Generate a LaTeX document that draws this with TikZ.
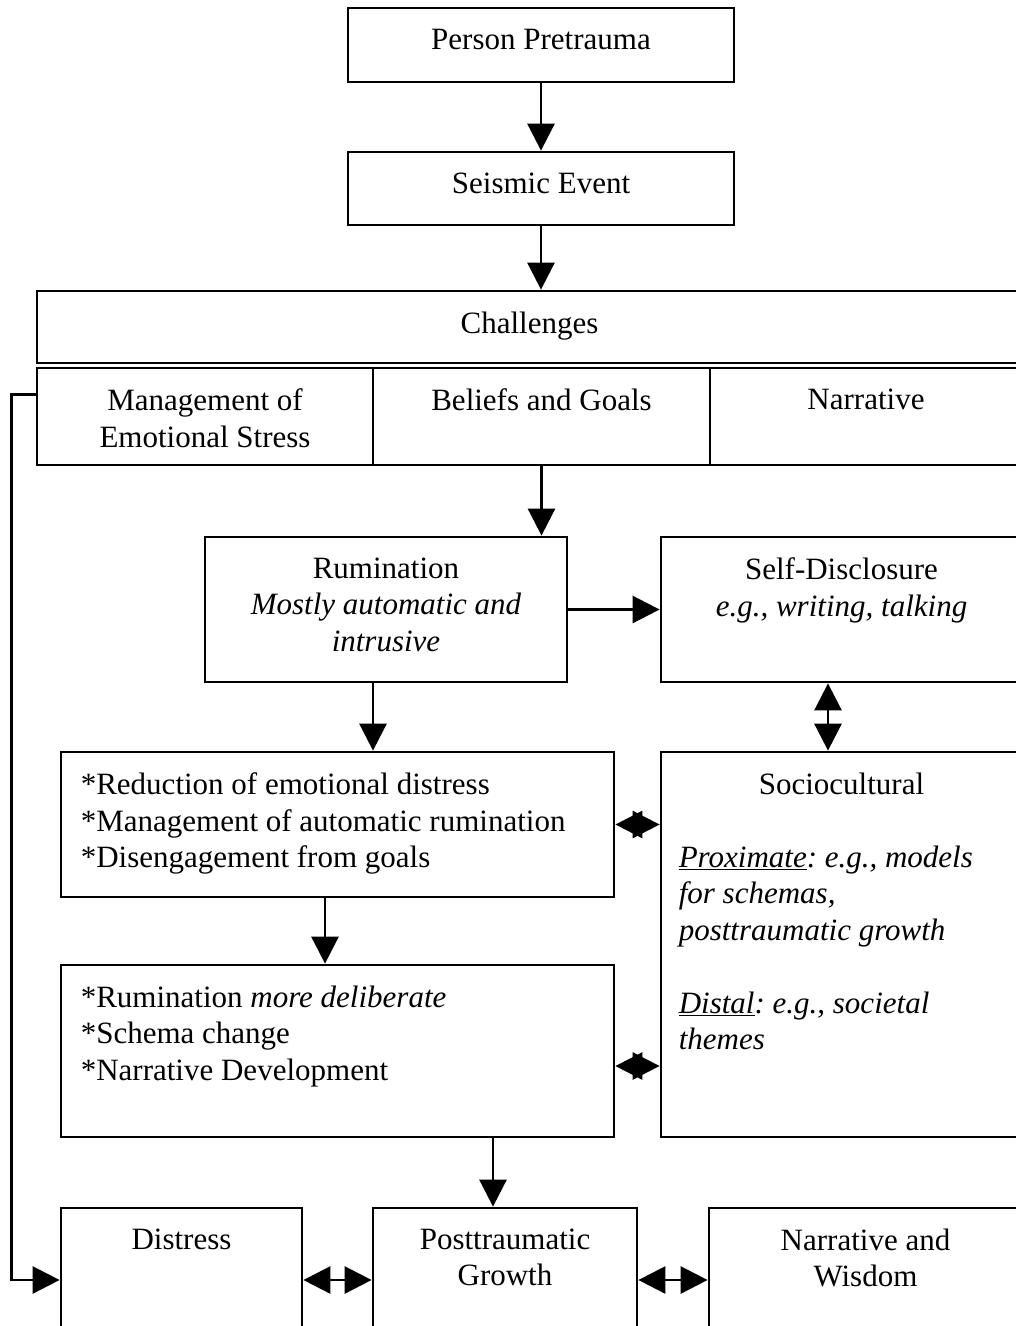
\documentclass[tikz,border=0pt]{standalone}
\usepackage{fontspec}
\setmainfont{Liberation Serif}
\usetikzlibrary{arrows.meta,calc}
\frenchspacing
\tikzset{
    box/.style={draw, rectangle, line width=2.8pt, inner sep=0pt},
    bigtri/.tip={Triangle[length=27pt,width=27pt]},
    txt/.style={anchor=north, yshift=-22pt, inner sep=0pt, align=center},
    txtl/.style={anchor=north west, xshift=21pt, yshift=-22pt, inner sep=0pt, align=left}}

\begin{document}
\begin{tikzpicture}[x=1pt, y=-1pt, font=\fontsize{31pt}{36.5pt}\selectfont]
\tikzstyle{arr}=[line width=2.8pt,-bigtri]
\tikzstyle{darr}=[line width=2.8pt,bigtri-bigtri]
    \path[use as bounding box] (0,0) rectangle (1016,1326);
    \clip (0,0) rectangle (1016,1326);

    \node (pre)[box,minimum width=386,minimum height=74,label={[txt]north:Person Pretrauma}] at (541,45) {};
    \node (seis)[box,minimum width=386,minimum height=73,label={[txt]north:Seismic Event}] at (541,188.5) {};
    \node (chal)[box,minimum width=985,minimum height=72,label={[txt]north:Challenges}] at (529.5,327) {};
    \node (mgmt)[box,minimum width=336,minimum height=97,label={[txt]north:Management of\\Emotional Stress}] at (205,416.5) {};
    \node (goals)[box,minimum width=337,minimum height=97,label={[txt]north:Beliefs and Goals}] at (541.5,416.5) {};
    \node (narr)[box,minimum width=312,minimum height=97,label={[txt]north:Narrative}] at (866,416.5) {};

    \node (rum)[box,minimum width=362,minimum height=145,label={[txt]north:Rumination\\\textit{Mostly automatic and}\\\textit{intrusive}}] at (386,609.5) {};
    \node (selfd)[box,minimum width=361,minimum height=145,label={[txt]north:Self-Disclosure\\\textit{e.g., writing, talking}}] at (841.5,609.5) {};

    \node (reduc)[box,minimum width=553,minimum height=145,label={[txtl]north west:*Reduction of emotional distress\\*Management of automatic rumination\\*Disengagement from goals}] at (337.5,824.5) {};
    \node (socio)[box,minimum width=361,minimum height=385,label={[txt]north:Sociocultural},
        label={[txtl,xshift=-2pt,yshift=-73pt]north west:\textit{\underline{Proximate}: e.g., models}\\\textit{for schemas,}\\\textit{posttraumatic growth}\\ \\\textit{\underline{Distal}: e.g., societal}\\\textit{themes}}] at (841.5,944.5) {};
    \node (delib)[box,minimum width=553,minimum height=172,label={[txtl]north west:*Rumination \textit{more deliberate}\\*Schema change\\*Narrative Development}] at (337.5,1051) {};

    \node (dist)[box,minimum width=241,minimum height=144,label={[txt]north:Distress}] at (181.5,1280) {};
    \node (growth)[box,minimum width=264,minimum height=144,label={[txt]north:Posttraumatic\\Growth}] at (505,1280) {};
    \node (wis)[box,minimum width=313,minimum height=144,label={[txt]north:Narrative and\\Wisdom}] at (865.5,1280) {};

    \draw[arr] (pre) -- (seis);
    \draw[arr] (seis.south) -- (seis.south |- chal.north);
    \draw[arr] (goals.south) -- (goals.south |- rum.north);
    \draw[arr] (rum.east) -- (selfd.west);
    \draw[darr] ([xshift=-13.5pt]selfd.south) -- ([xshift=-13.5pt]socio.north);
    \draw[arr] ([xshift=-13pt]rum.south) -- ([xshift=-13pt]rum.south |- reduc.north);
    \draw[darr] (reduc.east) -- (reduc.east -| socio.west);
    \draw[arr] ([xshift=-12.5pt]reduc.south) -- ([xshift=-12.5pt]reduc.south |- delib.north);
    \draw[darr] ([yshift=-15pt]delib.east) -- ([yshift=-15pt]delib.east -| socio.west);
    \draw[arr] ([xshift=-12pt]growth.north |- delib.south) -- ([xshift=-12pt]growth.north);
    \draw[darr] (dist) -- (growth);
    \draw[darr] (growth) -- (wis);
    \draw[arr] ([yshift=22pt]mgmt.west) -- ++(-24,0) |- (dist.west);
\end{tikzpicture}
\end{document}
